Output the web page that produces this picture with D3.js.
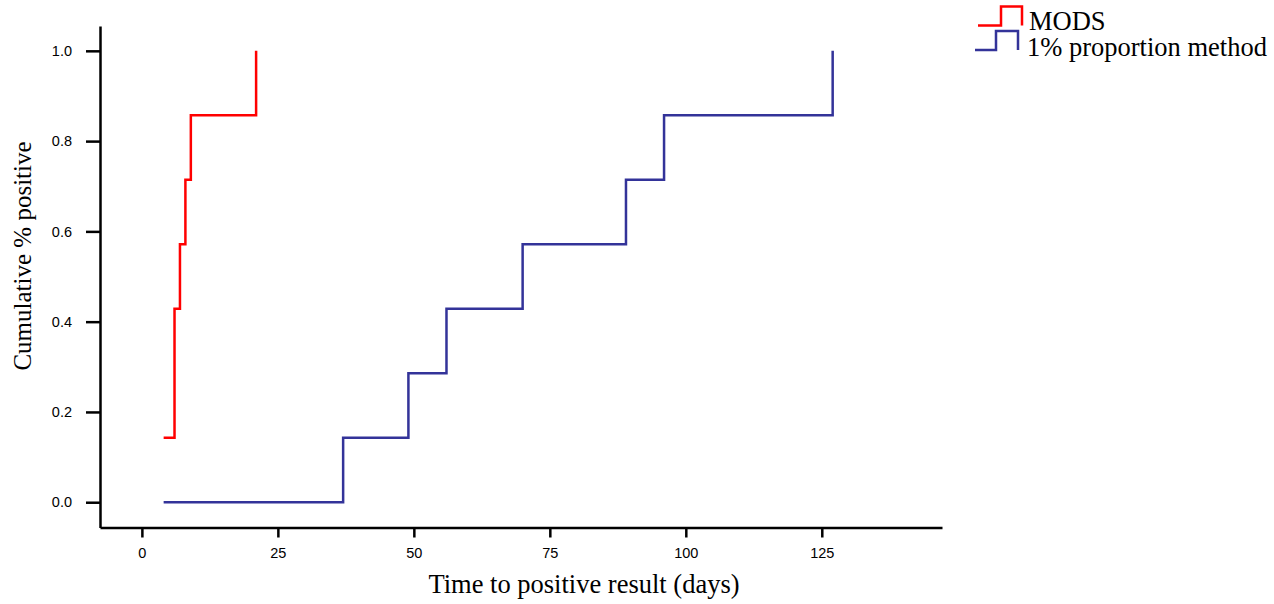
<!DOCTYPE html>
<html>
<head>
<meta charset="utf-8">
<script src="https://cdn.jsdelivr.net/npm/d3@7"></script>
<style>
  body { margin: 0; background: #fff; }
  .axis path, .axis line { stroke: #000; stroke-width: 2.5px; }
  .title { font-family: "Liberation Serif", "Times New Roman", serif; }
</style>
</head>
<body>
<div id="chart"></div>
<script>
// data: time (days) and cumulative proportion positive, step after
var modsDays = [4, 6, 7, 8, 9, 21];
var modsCum = [1/7, 3/7, 4/7, 5/7, 6/7, 1];
var propDays = [4, 37, 49, 56, 70, 89, 96, 127];
var propCum = [0, 1/7, 2/7, 3/7, 4/7, 5/7, 6/7, 1];
var xTicks = [0, 25, 50, 75, 100, 125];
var yTicks = [0, 0.2, 0.4, 0.6, 0.8, 1.0];
var seriesNames = ["MODS", "1% proportion method"];
var seriesColors = ["#ff0000", "#333399"];

var width = 1274, height = 604;
var svg = d3.select("#chart").append("svg").attr("width", width).attr("height", height);

// scales
var x_scale = d3.scaleLinear().domain([-7.7, 147.1]).range([100, 942]);
var y_scale = d3.scaleLinear().domain([-0.056, 1.055]).range([527.5, 26]);

// axes
var x_axis = d3.axisBottom(x_scale).tickValues(xTicks).tickSize(10).tickSizeOuter(0).tickPadding(10);
var y_axis = d3.axisLeft(y_scale).tickValues(yTicks).tickSize(14).tickSizeOuter(0).tickPadding(14)
    .tickFormat(d3.format(".1f"));

svg.append("g").attr("class", "axis")
    .attr("transform", "translate(0," + 527.5 + ")")
    .call(x_axis)
    .attr("font-family", "Liberation Sans, Arial, sans-serif")
    .attr("font-size", 14.5);
svg.append("g").attr("class", "axis")
    .attr("transform", "translate(100,0)")
    .call(y_axis)
    .attr("font-family", "Liberation Sans, Arial, sans-serif")
    .attr("font-size", 14.5);

// step lines
var line = d3.line()
    .x(function (d) { return x_scale(d[0]); })
    .y(function (d) { return y_scale(d[1]); })
    .curve(d3.curveStepAfter);

var series = [d3.zip(modsDays, modsCum), d3.zip(propDays, propCum)];
svg.selectAll(".series")
    .data(series)
    .enter()
    .append("path")
    .attr("class", "series")
    .attr("d", line)
    .attr("fill", "none")
    .attr("stroke", function (d, i) { return seriesColors[i]; })
    .attr("stroke-width", 2.5);

// axis labels
svg.append("text")
    .attr("class", "title")
    .attr("x", 584).attr("y", 593)
    .attr("text-anchor", "middle")
    .style("font-size", "26.5px")
    .text("Time to positive result (days)");
svg.append("text")
    .attr("class", "title")
    .attr("transform", "translate(31,256) rotate(-90)")
    .attr("text-anchor", "middle")
    .style("font-size", "25px")
    .text("Cumulative % positive");

// legend with little step keys
var legend = svg.append("g");
var keys = [
    { x0: 978, x1: 1001, x2: 1022, yLow: 25.5, yHigh: 6.5, tx: 1029, ty: 30 },
    { x0: 975, x1: 996, x2: 1018, yLow: 50, yHigh: 31, tx: 1027, ty: 56 }
];
keys.forEach(function (k, i) {
    legend.append("path")
        .attr("d", "M" + k.x0 + "," + k.yLow + "H" + k.x1 + "V" + k.yHigh + "H" + k.x2 + "V" + k.yLow)
        .attr("fill", "none")
        .attr("stroke", seriesColors[i])
        .attr("stroke-width", 2.5);
    legend.append("text")
        .attr("class", "title")
        .attr("x", k.tx).attr("y", k.ty)
        .style("font-size", "26.5px")
        .text(seriesNames[i]);
});
</script>
</body>
</html>
